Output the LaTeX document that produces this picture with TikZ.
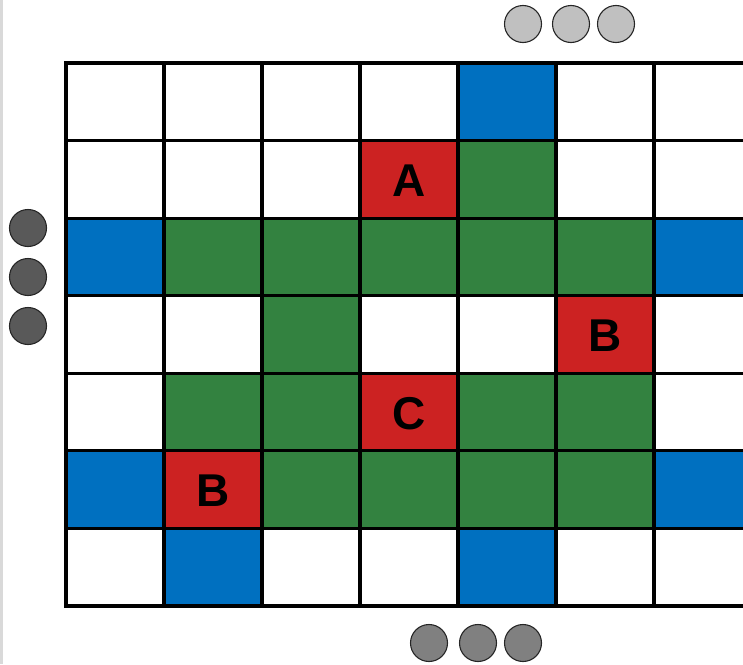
\documentclass[tikz,border=0pt]{standalone}
\usepackage{fontspec}
\setmainfont{Liberation Sans}
\definecolor{cw}{RGB}{255,255,255}
\definecolor{cb}{RGB}{0,112,192}
\definecolor{cg}{RGB}{51,130,64}
\definecolor{cr}{RGB}{204,34,34}
\definecolor{lgray}{RGB}{192,192,192}
\definecolor{mgray}{RGB}{128,128,128}
\definecolor{dgray}{RGB}{89,89,89}
\definecolor{edge}{RGB}{217,217,217}
\begin{document}
\begin{tikzpicture}[x=1pt,y=-1pt,
  cell/.style={draw=black,line width=3.2pt,minimum width=98pt,minimum height=77.57pt,inner sep=0pt,outer sep=0pt,rectangle},
  lbl/.style={font=\fontsize{46}{46}\selectfont\bfseries,text=black,inner sep=0pt},
  circ/.style={circle,draw=black!85,line width=1.1pt,minimum size=37pt,inner sep=0pt}]
\clip (0,0) rectangle (743,664);
\fill[white] (0,0) rectangle (743,664);
\draw[edge,line width=3pt] (1.5,0) -- (1.5,664);
\foreach \row [count=\r from 0] in {{w,w,w,w,b,w,w},{w,w,w,r,g,w,w},{b,g,g,g,g,g,b},{w,w,g,w,w,r,w},{w,g,g,r,g,g,w},{b,r,g,g,g,g,b},{w,b,w,w,b,w,w}}{
  \foreach \f [count=\c from 0] in \row {
    \node[cell,fill=c\f] (c\r-\c) at ({66+98*\c+49},{63+77.57*\r+38.785}) {};
  }
}
\draw[line width=4.5pt,line cap=rect] (c0-6.north east) -- (c0-0.north west) -- (c6-0.south west) -- (c6-6.south east);
\node[lbl] (lA) at ([yshift=-1.5pt]c1-3.center) {A};
\node[lbl] (lB1) at ([yshift=-1.5pt]c3-5.center) {B};
\node[lbl] (lC) at ([yshift=-1.5pt]c4-3.center) {C};
\node[lbl] (lB2) at ([yshift=-1.5pt]c5-1.center) {B};
\node[circ,fill=lgray] (t1) at (523,24) {};
\node[circ,fill=lgray] (t2) at (571,24) {};
\node[circ,fill=lgray] (t3) at (616,24) {};
\node[circ,fill=dgray] (l1) at (28,228) {};
\node[circ,fill=dgray] (l2) at (28,277) {};
\node[circ,fill=dgray] (l3) at (28,326) {};
\node[circ,fill=mgray] (b1) at (429,643) {};
\node[circ,fill=mgray] (b2) at (478,643) {};
\node[circ,fill=mgray] (b3) at (523,643) {};
\end{tikzpicture}
\end{document}
